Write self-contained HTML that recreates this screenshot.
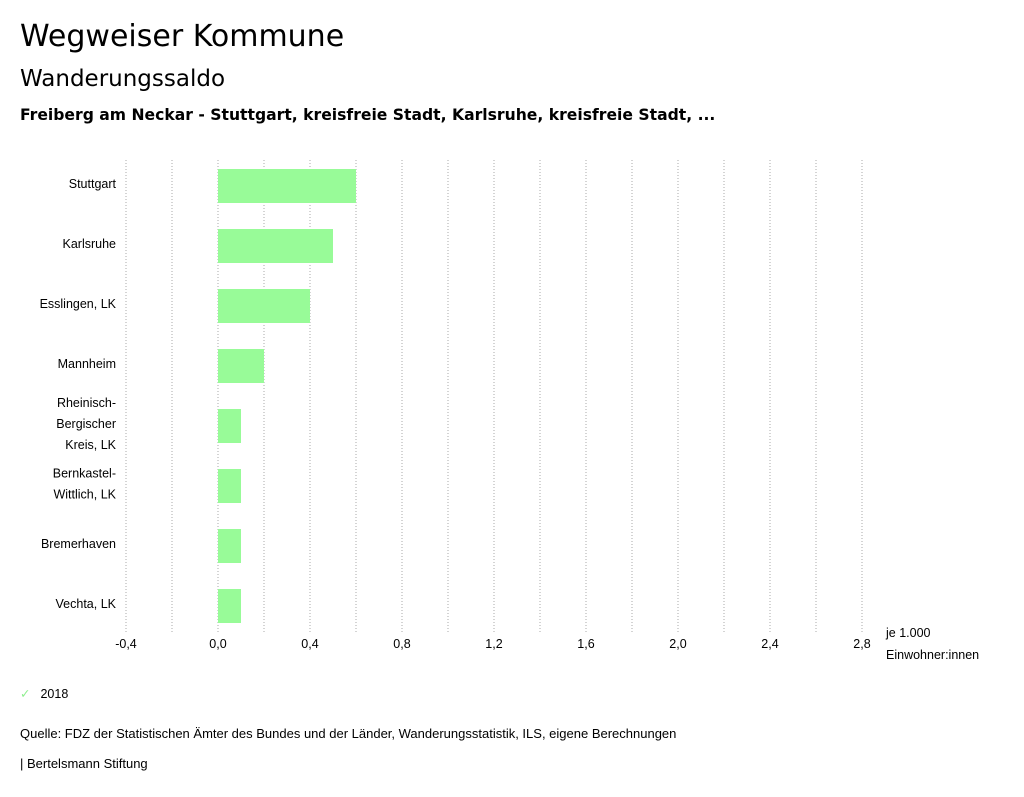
<!DOCTYPE html>
<html><head><meta charset="utf-8"><style>
body{margin:0;width:1024px;height:797px;background:#fff;font-family:"Liberation Sans","DejaVu Sans",sans-serif;color:#000;position:relative;overflow:hidden}
.t{position:absolute;white-space:nowrap}
</style></head><body>
<div class="t" style="left:20px;top:19px;font-size:30px;font-family:'DejaVu Sans',sans-serif">Wegweiser Kommune</div>
<div class="t" style="left:20px;top:66px;font-size:23px;font-family:'DejaVu Sans',sans-serif">Wanderungssaldo</div>
<div class="t" style="left:20px;top:106px;font-size:15.6px;font-weight:bold;font-family:'DejaVu Sans',sans-serif">Freiberg am Neckar - Stuttgart, kreisfreie Stadt, Karlsruhe, kreisfreie Stadt, ...</div>
<svg id="chart" width="1024" height="797" style="position:absolute;left:0;top:0"></svg>
<div class="t" style="left:20px;top:686px;font-size:12.5px"><span style="color:#8fef8f;margin-right:10px">✓</span>2018</div>
<div class="t" style="left:20px;top:726px;font-size:13px">Quelle: FDZ der Statistischen Ämter des Bundes und der Länder, Wanderungsstatistik, ILS, eigene Berechnungen</div>
<div class="t" style="left:20px;top:756px;font-size:13px">| Bertelsmann Stiftung</div>
<script>
const categories=[["Stuttgart"],["Karlsruhe"],["Esslingen, LK"],["Mannheim"],["Rheinisch-","Bergischer","Kreis, LK"],["Bernkastel-","Wittlich, LK"],["Bremerhaven"],["Vechta, LK"]];
const values2018=[0.6,0.5,0.4,0.2,0.1,0.1,0.1,0.1];
const ticks=[-0.4,0,0.4,0.8,1.2,1.6,2.0,2.4,2.8];
const gridVals=[-0.4,-0.2,0,0.2,0.4,0.6,0.8,1.0,1.2,1.4,1.6,1.8,2.0,2.2,2.4,2.6,2.8];
const svg=document.getElementById('chart');const NS='http://www.w3.org/2000/svg';
const x=v=>218+v*230;const top0=156,band=60;const y=i=>top0+i*band;
function mk(t,a){const e=document.createElementNS(NS,t);for(const k in a)e.setAttribute(k,a[k]);svg.appendChild(e);return e;}
gridVals.forEach(v=>{const l=mk('line',{x1:x(v),x2:x(v),y1:160,y2:632,stroke:'#aaa','stroke-dasharray':'1,2'});

});
ticks.forEach(v=>{const t=mk('text',{x:x(v),y:648,'text-anchor':'middle','font-size':12.5});t.textContent=v.toFixed(1).replace('.',',');

});
values2018.forEach((v,i)=>{const c=y(i)+band/2;const r=mk('rect',{x:Math.min(x(0),x(v)),y:c-17,width:Math.abs(x(v)-x(0)),height:34,fill:'#98fb98'});


const lines=categories[i];lines.forEach((s,j)=>{const t=mk('text',{x:116,y:c+2+(j-(lines.length-1)/2)*21,'text-anchor':'end','font-size':12.5});t.textContent=s;

});});
[["je 1.000",637],["Einwohner:innen",659]].forEach(([s,yy])=>{const t=mk('text',{x:886,y:yy,'font-size':12.5});t.textContent=s;

});
</script>
</body></html>
